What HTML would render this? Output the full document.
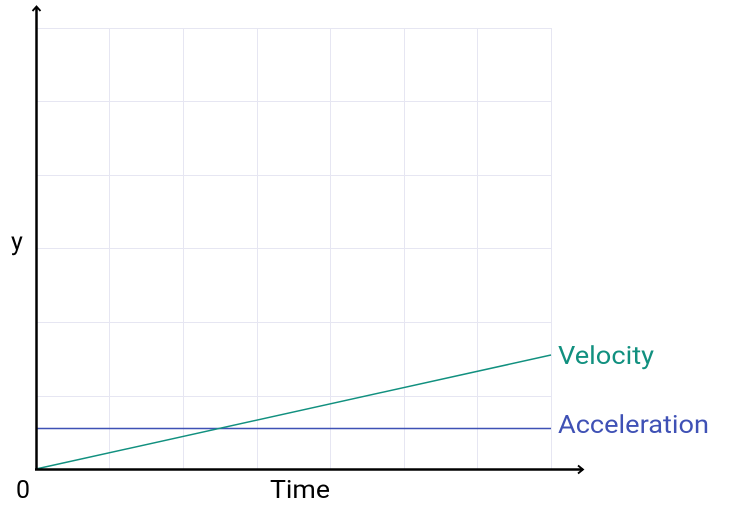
<!DOCTYPE html>
<html><head><style>body{margin:0;background:#fff}svg{display:block}</style></head><body>
<svg width="730" height="518" xmlns="http://www.w3.org/2000/svg" font-family="Roboto, 'Liberation Sans', sans-serif">
<g stroke="#e6e6f2" stroke-width="1">
<line x1="109.5" y1="28" x2="109.5" y2="469"/><line x1="183.5" y1="28" x2="183.5" y2="469"/><line x1="257.5" y1="28" x2="257.5" y2="469"/><line x1="330.5" y1="28" x2="330.5" y2="469"/><line x1="404.5" y1="28" x2="404.5" y2="469"/><line x1="477.5" y1="28" x2="477.5" y2="469"/><line x1="551.5" y1="28" x2="551.5" y2="469"/>
<line x1="36" y1="28.5" x2="551" y2="28.5"/><line x1="36" y1="101.5" x2="551" y2="101.5"/><line x1="36" y1="175.5" x2="551" y2="175.5"/><line x1="36" y1="248.5" x2="551" y2="248.5"/><line x1="36" y1="322.5" x2="551" y2="322.5"/><line x1="36" y1="396.5" x2="551" y2="396.5"/>
</g>
<line x1="36" y1="428.5" x2="551" y2="428.5" stroke="#3f51b5" stroke-width="1.5"/>
<line x1="36" y1="469" x2="551" y2="355" stroke="#11907f" stroke-width="1.5"/>
<g stroke="#000" fill="none">
<line x1="36.5" y1="7" x2="36.5" y2="470" stroke-width="2.5"/>
<line x1="35" y1="469.5" x2="583" y2="469.5" stroke-width="2.5"/>
<polyline points="32.5,11 36.5,6.5 40.5,11" stroke-width="1.8"/>
<polyline points="578,465.5 583,469.5 578,473.5" stroke-width="1.8"/>
</g>
<text x="558" y="364" font-size="25" fill="#11907f" textLength="96" lengthAdjust="spacingAndGlyphs">Velocity</text>
<text x="558" y="433" font-size="25" fill="#3f51b5" textLength="151" lengthAdjust="spacingAndGlyphs">Acceleration</text>
<text x="11" y="250" font-size="25" fill="#000">y</text>
<text x="16" y="498" font-size="25" fill="#000" textLength="14" lengthAdjust="spacingAndGlyphs">0</text>
<text x="270" y="498" font-size="25" fill="#000" textLength="60" lengthAdjust="spacingAndGlyphs">Time</text>
</svg>
</body></html>
